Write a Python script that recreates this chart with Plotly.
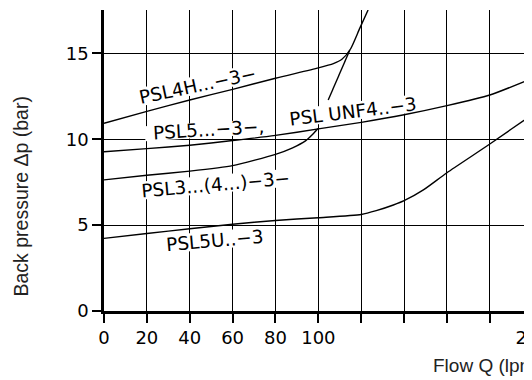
import math
import plotly.graph_objects as go

# ---------------- data ----------------
x_tick_vals = [0, 20, 40, 60, 80, 100, 120, 140, 160, 180, 200]
x_tick_text = ["0", "20", "40", "60", "80", "100", "", "", "", "", "200"]
y_tick_vals = [0, 5, 10, 15]
y_tick_text = ["0", "5", "10", "15"]

psl4h_q = [0, 20, 40, 60, 80, 100, 107, 111, 115, 119.3, 123.2]
psl4h_dp = [10.93, 11.62, 12.28, 12.9, 13.55, 14.15, 14.4, 14.65, 15.25, 16.45, 17.52]

unf4_leader_q = [104.6, 114.7]
unf4_leader_dp = [12.28, 15.19]

psl5_q = [0, 20, 40, 60, 80, 100, 120, 140, 160, 180, 200, 215]
psl5_dp = [9.27, 9.45, 9.65, 9.92, 10.22, 10.6, 10.98, 11.42, 11.95, 12.57, 13.55, 14.3]

psl3_q = [0, 20, 40, 60, 80, 88, 94, 97.5, 99.8]
psl3_dp = [7.63, 7.9, 8.14, 8.46, 9.12, 9.5, 9.9, 10.3, 10.62]

psl5u_q = [0, 20, 40, 60, 80, 100, 120, 127, 135, 140, 149, 160, 180, 200, 215]
psl5u_dp = [4.23, 4.51, 4.79, 5.05, 5.27, 5.43, 5.62, 5.84, 6.17, 6.42, 7.05, 8.05, 9.72, 11.45, 12.7]

label_texts = ["PSL4H...−3−", "PSL5...−3−,", "PSL UNF4..−3", "PSL3...(4...)−3−", "PSL5U..−3"]
label_q = [43.4, 48.9, 116.1, 52.2, 51.8]
label_dp = [13.15, 10.54, 11.64, 7.39, 4.13]

y_title = "Back pressure Δp (bar)"
x_title = "Flow Q (lpm)"

# ---------------- styling / geometry ----------------
label_angles = [-12, -3.5, -7, -5, -5]
label_box_w = [128, 128, 146, 164, 108]   # px, white backing behind text
label_box_h = [18, 15, 18, 18, 18]

PAGE_OFF = 8        # body margin of the html page
X_MAX = 230
Y_MAX = 17.52
PX_X = 2.145        # px per lpm
PX_Y = 17.18        # px per bar
ML = 104 - PAGE_OFF
MT = 10 - PAGE_OFF
PLOT_W = X_MAX * PX_X
PLOT_H = Y_MAX * PX_Y
W = 640
H = 380
MR = W - ML - PLOT_W
MB = H - MT - PLOT_H


def paper_x(page_px):
    return (page_px - PAGE_OFF - ML) / PLOT_W


def paper_y(page_py):
    return (MT + PLOT_H - (page_py - PAGE_OFF)) / PLOT_H


LINE = dict(color="black", width=1.4)

fig = go.Figure()
for qs, ps in [(psl4h_q, psl4h_dp), (unf4_leader_q, unf4_leader_dp),
               (psl5_q, psl5_dp), (psl3_q, psl3_dp), (psl5u_q, psl5u_dp)]:
    fig.add_trace(go.Scatter(x=qs, y=ps, mode="lines",
                             line=dict(shape="spline", smoothing=0.6, **LINE),
                             hoverinfo="skip", showlegend=False))

shapes = []
for q, p, ang, bw, bh in zip(label_q, label_dp, label_angles, label_box_w, label_box_h):
    t = math.radians(-ang)
    ux, uy = math.cos(t), -math.sin(t)     # along text (px, y down)
    vx, vy = math.sin(t), math.cos(t)      # normal
    a, b = bw / 2, bh / 2
    pts = []
    for sa, sb in [(-1, -1), (1, -1), (1, 1), (-1, 1)]:
        dxp = sa * a * ux + sb * b * vx
        dyp = sa * a * uy + sb * b * vy
        pts.append((q + dxp / PX_X, p - dyp / PX_Y))
    path = "M " + " L ".join(f"{x:.3f},{y:.3f}" for x, y in pts) + " Z"
    shapes.append(dict(type="path", path=path, xref="x", yref="y", layer="between",
                       fillcolor="white", line=dict(width=0)))

annotations = []
for txt, q, p, ang in zip(label_texts, label_q, label_dp, label_angles):
    annotations.append(dict(text=txt, x=q, y=p, xref="x", yref="y", showarrow=False,
                            textangle=ang, xanchor="center", yanchor="middle",
                            font=dict(family="DejaVu Sans", size=18.5, color="black")))

annotations.append(dict(text=y_title, xref="paper", yref="paper",
                        x=paper_x(20), y=paper_y(196.5),
                        textangle=-90, showarrow=False, xanchor="center", yanchor="middle",
                        font=dict(family="Liberation Sans", size=19.5, color="#222")))
annotations.append(dict(text=x_title, xref="paper", yref="paper",
                        x=paper_x(431.7), y=paper_y(365.7),
                        showarrow=False, xanchor="left", yanchor="middle",
                        font=dict(family="Liberation Sans", size=19, color="#222")))

axis_common = dict(showline=True, linecolor="black", linewidth=2.5, ticks="outside",
                   ticklen=9, tickwidth=2, tickcolor="black", showgrid=True,
                   gridcolor="black", gridwidth=1.3, zeroline=False,
                   tickfont=dict(family="DejaVu Sans", size=18, color="black"),
                   fixedrange=True)

fig.update_layout(
    width=W, height=H,
    margin=dict(l=ML, r=MR, t=MT, b=MB, pad=0),
    paper_bgcolor="white", plot_bgcolor="white",
    xaxis=dict(range=[0, X_MAX], tickmode="array", tickvals=x_tick_vals, ticktext=x_tick_text,
               **axis_common),
    yaxis=dict(range=[0, Y_MAX], tickmode="array", tickvals=y_tick_vals, ticktext=y_tick_text,
               **axis_common),
    shapes=shapes,
    annotations=annotations,
    showlegend=False,
)

fig.write_html("out.html", config={"displayModeBar": False},
               post_script="document.documentElement.style.overflow='hidden';document.body.style.overflow='hidden';")
